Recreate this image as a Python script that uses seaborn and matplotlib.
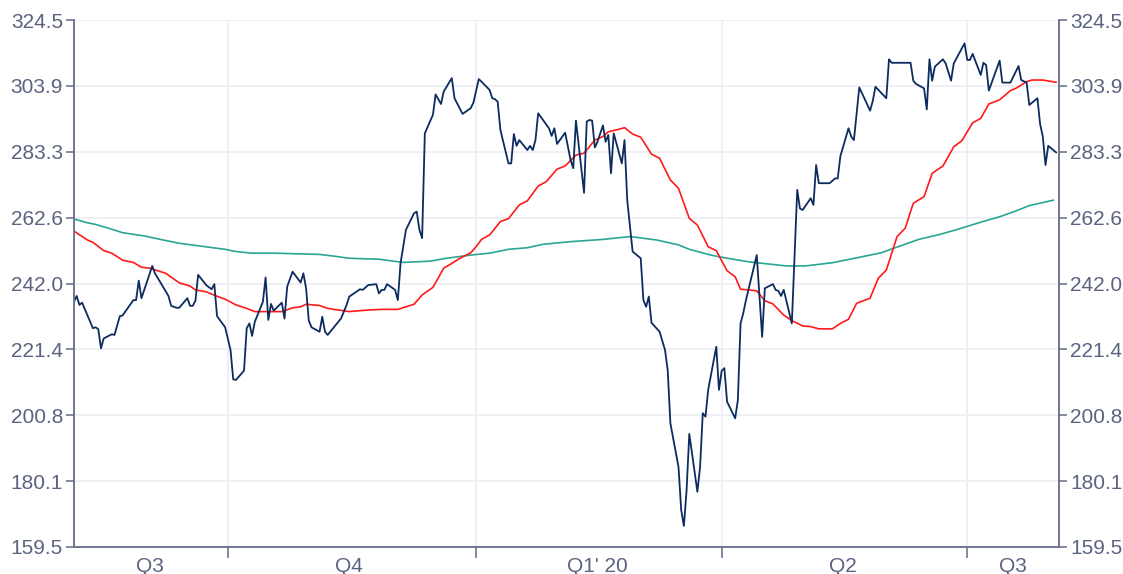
import pandas as pd
import matplotlib
matplotlib.use("Agg")
import matplotlib.pyplot as plt
import seaborn as sns

# ── Data ──────────────────────────────────────────────────────────
price_dates = [
    "2019-08-05", "2019-08-06", "2019-08-07", "2019-08-08", "2019-08-12", "2019-08-13",
    "2019-08-14", "2019-08-15", "2019-08-16", "2019-08-19", "2019-08-20", "2019-08-22",
    "2019-08-23", "2019-08-27", "2019-08-28", "2019-08-29", "2019-08-30", "2019-09-03",
    "2019-09-04", "2019-09-09", "2019-09-10", "2019-09-12", "2019-09-13", "2019-09-16",
    "2019-09-17", "2019-09-18", "2019-09-19", "2019-09-20", "2019-09-23", "2019-09-25",
    "2019-09-26", "2019-09-27", "2019-09-30", "2019-10-01", "2019-10-02", "2019-10-03",
    "2019-10-04", "2019-10-07", "2019-10-08", "2019-10-09", "2019-10-10", "2019-10-11",
    "2019-10-14", "2019-10-15", "2019-10-16", "2019-10-17", "2019-10-18", "2019-10-21",
    "2019-10-22", "2019-10-23", "2019-10-25", "2019-10-28", "2019-10-29", "2019-10-30",
    "2019-10-31", "2019-11-01", "2019-11-04", "2019-11-05", "2019-11-06", "2019-11-07",
    "2019-11-12", "2019-11-14", "2019-11-15", "2019-11-19", "2019-11-20", "2019-11-22",
    "2019-11-25", "2019-11-26", "2019-11-27", "2019-11-28", "2019-11-29", "2019-12-02",
    "2019-12-03", "2019-12-04", "2019-12-06", "2019-12-09", "2019-12-10", "2019-12-11",
    "2019-12-12", "2019-12-13", "2019-12-16", "2019-12-17", "2019-12-19", "2019-12-20",
    "2019-12-23", "2019-12-24", "2019-12-27", "2019-12-30", "2019-12-31", "2020-01-02",
    "2020-01-03", "2020-01-06", "2020-01-07", "2020-01-08", "2020-01-09", "2020-01-10",
    "2020-01-13", "2020-01-14", "2020-01-15", "2020-01-16", "2020-01-17", "2020-01-20",
    "2020-01-21", "2020-01-22", "2020-01-23", "2020-01-24", "2020-01-28", "2020-01-29",
    "2020-01-30", "2020-01-31", "2020-02-03", "2020-02-05", "2020-02-06", "2020-02-07",
    "2020-02-10", "2020-02-11", "2020-02-12", "2020-02-13", "2020-02-14", "2020-02-15",
    "2020-02-17", "2020-02-18", "2020-02-19", "2020-02-20", "2020-02-21", "2020-02-24",
    "2020-02-25", "2020-02-26", "2020-02-28", "2020-03-02", "2020-03-03", "2020-03-04",
    "2020-03-05", "2020-03-06", "2020-03-09", "2020-03-11", "2020-03-12", "2020-03-13",
    "2020-03-16", "2020-03-17", "2020-03-18", "2020-03-19", "2020-03-20", "2020-03-23",
    "2020-03-24", "2020-03-25", "2020-03-26", "2020-03-27", "2020-03-30", "2020-03-31",
    "2020-04-01", "2020-04-02", "2020-04-03", "2020-04-06", "2020-04-07", "2020-04-08",
    "2020-04-09", "2020-04-10", "2020-04-14", "2020-04-16", "2020-04-17", "2020-04-20",
    "2020-04-21", "2020-04-22", "2020-04-23", "2020-04-24", "2020-04-27", "2020-04-29",
    "2020-04-30", "2020-05-01", "2020-05-04", "2020-05-05", "2020-05-06", "2020-05-07",
    "2020-05-11", "2020-05-13", "2020-05-14", "2020-05-15", "2020-05-18", "2020-05-19",
    "2020-05-20", "2020-05-22", "2020-05-26", "2020-05-27", "2020-05-28", "2020-06-01",
    "2020-06-02", "2020-06-03", "2020-06-10", "2020-06-11", "2020-06-12", "2020-06-15",
    "2020-06-16", "2020-06-17", "2020-06-18", "2020-06-19", "2020-06-22", "2020-06-23",
    "2020-06-25", "2020-06-26", "2020-06-30", "2020-07-01", "2020-07-02", "2020-07-03",
    "2020-07-06", "2020-07-07", "2020-07-08", "2020-07-09", "2020-07-13", "2020-07-14",
    "2020-07-17", "2020-07-20", "2020-07-21", "2020-07-23", "2020-07-24", "2020-07-27",
    "2020-07-28", "2020-07-29", "2020-07-30", "2020-07-31", "2020-08-03",
]
price_values = [
    236.3, 238.1, 235.3, 236.0, 228.0, 228.3,
    227.7, 221.7, 224.8, 226.1, 225.9, 231.8,
    232.0, 236.8, 236.8, 242.9, 237.4, 247.5,
    245.2, 238.1, 235.0, 234.4, 234.4, 237.4,
    235.0, 235.0, 236.6, 244.7, 241.5, 240.2,
    241.8, 231.8, 228.3, 224.8, 221.2, 212.0,
    211.8, 214.7, 228.0, 229.5, 225.6, 230.0,
    236.3, 243.9, 230.6, 235.6, 233.5, 236.0,
    231.0, 241.0, 245.7, 242.3, 245.2, 240.5,
    230.4, 228.3, 226.9, 231.6, 226.9, 225.9,
    231.1, 235.3, 237.9, 240.2, 240.0, 241.5,
    241.8, 238.9, 240.0, 240.0, 241.8, 240.0,
    236.8, 248.3, 258.8, 264.0, 264.5, 258.8,
    256.2, 289.0, 294.8, 301.2, 298.2, 302.1,
    306.3, 300.0, 295.1, 296.9, 298.6, 306.0,
    305.2, 302.6, 300.0, 299.7, 298.9, 290.1,
    279.6, 279.6, 288.8, 285.1, 286.9, 283.8,
    285.1, 283.8, 286.9, 295.3, 290.6, 288.2,
    290.6, 285.7, 289.2, 280.7, 278.1, 293.0,
    270.4, 292.7, 293.2, 293.0, 284.6, 286.4,
    291.5, 286.4, 288.5, 276.5, 289.0, 279.6,
    286.9, 268.1, 252.0, 249.9, 236.8, 234.7,
    237.9, 229.7, 226.9, 221.2, 214.9, 198.2,
    184.6, 171.1, 166.1, 177.3, 194.9, 176.8,
    184.6, 201.4, 200.3, 208.7, 222.2, 208.7,
    214.7, 215.5, 205.0, 199.8, 205.5, 229.5,
    232.7, 236.8, 250.9, 225.3, 240.5, 241.8,
    240.0, 239.7, 238.1, 240.0, 229.5, 271.3,
    265.5, 265.0, 268.7, 266.6, 279.1, 273.4,
    273.4, 274.9, 274.9, 281.9, 290.6, 288.0,
    286.9, 303.4, 296.1, 299.2, 303.6, 300.0,
    312.2, 311.1, 311.1, 305.5, 304.5, 303.1,
    296.5, 312.2, 305.5, 309.9, 312.2, 310.9,
    305.5, 310.9, 317.2, 312.0, 312.0, 313.9,
    307.3, 311.1, 310.4, 302.4, 311.8, 304.9,
    304.9, 310.1, 305.7, 304.9, 297.9, 300.0,
    291.9, 288.0, 279.1, 285.1, 283.0,
]

ma50_dates = [
    "2019-08-05", "2019-08-10", "2019-08-12", "2019-08-16", "2019-08-19", "2019-08-23",
    "2019-08-27", "2019-08-30", "2019-09-02", "2019-09-08", "2019-09-13", "2019-09-17",
    "2019-09-19", "2019-09-23", "2019-09-27", "2019-09-30", "2019-10-04", "2019-10-08",
    "2019-10-11", "2019-10-21", "2019-10-25", "2019-10-28", "2019-10-30", "2019-11-04",
    "2019-11-07", "2019-11-11", "2019-11-15", "2019-11-22", "2019-11-27", "2019-12-03",
    "2019-12-06", "2019-12-09", "2019-12-12", "2019-12-16", "2019-12-20", "2019-12-23",
    "2019-12-26", "2019-12-30", "2020-01-01", "2020-01-03", "2020-01-06", "2020-01-10",
    "2020-01-13", "2020-01-17", "2020-01-20", "2020-01-24", "2020-01-27", "2020-01-31",
    "2020-02-03", "2020-02-07", "2020-02-10", "2020-02-14", "2020-02-17", "2020-02-19",
    "2020-02-23", "2020-02-25", "2020-02-28", "2020-03-02", "2020-03-06", "2020-03-09",
    "2020-03-13", "2020-03-16", "2020-03-20", "2020-03-23", "2020-03-27", "2020-03-30",
    "2020-04-03", "2020-04-06", "2020-04-08", "2020-04-11", "2020-04-14", "2020-04-17",
    "2020-04-20", "2020-04-24", "2020-04-27", "2020-05-01", "2020-05-04", "2020-05-07",
    "2020-05-12", "2020-05-15", "2020-05-18", "2020-05-21", "2020-05-26", "2020-05-29",
    "2020-06-01", "2020-06-05", "2020-06-08", "2020-06-11", "2020-06-15", "2020-06-18",
    "2020-06-22", "2020-06-26", "2020-06-29", "2020-07-03", "2020-07-06", "2020-07-09",
    "2020-07-13", "2020-07-17", "2020-07-19", "2020-07-23", "2020-07-25", "2020-07-29",
    "2020-08-03",
]
ma50_values = [
    258.4, 255.6, 254.9, 252.3, 251.5, 249.3,
    248.6, 247.1, 246.8, 245.2, 242.2, 241.2,
    240.0, 239.4, 238.0, 237.1, 235.3, 234.2,
    233.2, 233.2, 234.4, 234.7, 235.5, 235.1,
    234.2, 233.7, 233.2, 233.7, 233.9, 233.9,
    234.7, 235.5, 238.4, 240.8, 246.8, 248.3,
    249.9, 251.6, 253.5, 255.8, 257.2, 261.4,
    262.3, 266.6, 267.9, 272.5, 273.9, 277.8,
    278.8, 282.2, 282.8, 286.9, 288.0, 289.5,
    290.3, 290.8, 288.8, 287.8, 282.5, 281.2,
    274.4, 271.8, 262.4, 260.3, 253.5, 252.3,
    246.0, 244.1, 240.2, 240.0, 239.7, 236.6,
    235.6, 232.1, 230.4, 228.7, 228.5, 227.8,
    227.8, 229.5, 230.8, 235.8, 237.4, 243.6,
    246.2, 256.7, 259.3, 267.1, 269.2, 276.5,
    278.8, 284.8, 286.7, 292.3, 293.7, 298.2,
    299.5, 302.4, 303.1, 305.2, 305.7, 305.7,
    305.0,
]

ma200_dates = [
    "2019-08-05", "2019-08-10", "2019-08-13", "2019-08-19", "2019-08-23", "2019-08-31",
    "2019-09-06", "2019-09-13", "2019-09-21", "2019-09-30", "2019-10-04", "2019-10-10",
    "2019-10-18", "2019-11-04", "2019-11-09", "2019-11-15", "2019-11-26", "2019-12-05",
    "2019-12-15", "2019-12-21", "2019-12-30", "2020-01-06", "2020-01-13", "2020-01-20",
    "2020-01-26", "2020-02-05", "2020-02-17", "2020-02-27", "2020-02-29", "2020-03-08",
    "2020-03-16", "2020-03-20", "2020-03-28", "2020-04-01", "2020-04-11", "2020-04-14",
    "2020-04-25", "2020-05-02", "2020-05-12", "2020-05-22", "2020-05-30", "2020-06-06",
    "2020-06-13", "2020-06-21", "2020-06-28", "2020-07-06", "2020-07-13", "2020-07-19",
    "2020-07-24", "2020-08-02",
]
ma200_values = [
    262.2, 261.0, 260.5, 259.0, 257.9, 256.9,
    255.8, 254.6, 253.7, 252.7, 252.0, 251.5,
    251.5, 251.1, 250.6, 249.9, 249.6, 248.6,
    249.0, 249.9, 250.9, 251.5, 252.7, 253.2,
    254.3, 255.1, 255.8, 256.7, 256.5, 255.6,
    254.1, 252.7, 250.9, 250.2, 248.8, 248.5,
    247.5, 247.5, 248.5, 250.2, 251.6, 253.7,
    255.8, 257.4, 259.1, 261.2, 262.9, 264.7,
    266.4, 268.1,
]

y_ticks = [159.5, 180.1, 200.8, 221.4, 242.0, 262.6, 283.3, 303.9, 324.5]
quarter_bounds = ["2019-10-01", "2020-01-01", "2020-04-01", "2020-07-01"]
quarter_mids = ["2019-09-02", "2019-11-15", "2020-02-15", "2020-05-16", "2020-07-18"]
quarter_labels = ["Q3", "Q4", "Q1' 20", "Q2", "Q3"]

price_df = pd.DataFrame({"date": pd.to_datetime(price_dates), "value": price_values})
ma50_df = pd.DataFrame({"date": pd.to_datetime(ma50_dates), "value": ma50_values})
ma200_df = pd.DataFrame({"date": pd.to_datetime(ma200_dates), "value": ma200_values})

# ── Style ─────────────────────────────────────────────────────────
sns.set_style("white")
plt.rcParams["font.family"] = ["Liberation Sans", "DejaVu Sans"]
text_color = "#5b6380"
axis_color = "#6f7590"
grid_color = "#eceef4"

fig = plt.figure(figsize=(11.23, 5.74), dpi=100)
ax = fig.add_axes([74 / 1123, 27 / 574, 985 / 1123, 527 / 574])

sns.lineplot(data=ma200_df, x="date", y="value", ax=ax, color="#2ba594", linewidth=1.2)
sns.lineplot(data=ma50_df, x="date", y="value", ax=ax, color="#ff1a1a", linewidth=1.2)
sns.lineplot(data=price_df, x="date", y="value", ax=ax, color="#0c2c5f", linewidth=1.3)

ax.set_xlim(pd.Timestamp("2019-08-05"), pd.Timestamp("2020-08-04"))
ax.set_ylim(159.5, 324.5)
ax.set_xlabel("")
ax.set_ylabel("")

# y axes on both sides
ax.set_yticks(y_ticks)
ax.set_yticklabels([f"{v:.1f}" for v in y_ticks])
ax2 = ax.twinx()
ax2.set_ylim(159.5, 324.5)
ax2.set_yticks(y_ticks)
ax2.set_yticklabels([f"{v:.1f}" for v in y_ticks])

# quarter boundaries as major ticks, labels centred in between
ax.set_xticks(pd.to_datetime(quarter_bounds))
ax.set_xticklabels([""] * len(quarter_bounds))
ax.set_xticks(pd.to_datetime(quarter_mids), minor=True)
ax.set_xticklabels(quarter_labels, minor=True)

ax.grid(True, which="major", color=grid_color, linewidth=1.2)
ax.set_axisbelow(True)

for a in (ax, ax2):
    a.spines["top"].set_visible(False)
    for side in ("left", "right", "bottom"):
        a.spines[side].set_color(axis_color)
        a.spines[side].set_linewidth(1.2)

ax.tick_params(axis="y", left=True, direction="out", colors=axis_color,
               labelcolor=text_color, labelsize=15, length=6, width=1.2, pad=2)
ax2.tick_params(axis="y", right=True, direction="out", colors=axis_color,
                labelcolor=text_color, labelsize=15, length=6, width=1.2, pad=2)
ax.tick_params(axis="x", which="major", bottom=True, direction="out",
               colors=axis_color, length=8, width=1.2)
ax.tick_params(axis="x", which="minor", bottom=True, length=0, labelsize=15,
               labelcolor=text_color, pad=7)

fig.savefig("out.png", dpi=100)
